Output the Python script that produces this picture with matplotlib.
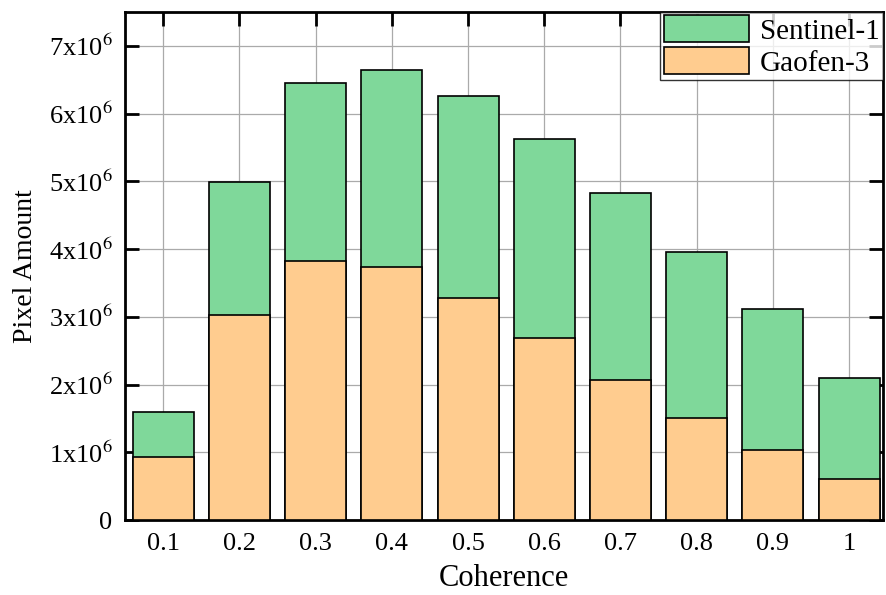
import numpy as np
import matplotlib.pyplot as plt
from matplotlib.ticker import FuncFormatter

plt.rcParams['font.family'] = ['Liberation Serif', 'DejaVu Serif']
plt.rcParams['mathtext.fontset'] = 'stix'

# Coherence bins and pixel counts (millions)
coherence = [0.1, 0.2, 0.3, 0.4, 0.5, 0.6, 0.7, 0.8, 0.9, 1.0]
tick_labels = ['0.1', '0.2', '0.3', '0.4', '0.5', '0.6', '0.7', '0.8', '0.9', '1']
sentinel1 = [1.60, 4.99, 6.45, 6.64, 6.26, 5.62, 4.82, 3.95, 3.11, 2.09]
gaofen3 = [0.93, 3.02, 3.83, 3.74, 3.27, 2.68, 2.06, 1.51, 1.04, 0.61]

fig = plt.figure(figsize=(8.87, 5.95), dpi=100)
ax = fig.add_axes([0.141, 0.126, 0.855, 0.854])

x = np.array(coherence)
s = np.array(sentinel1) * 1e6
g = np.array(gaofen3) * 1e6

ax.bar(x, s, width=0.08, color='#7fd89a', edgecolor='black', linewidth=1.2,
       label='Sentinel-1', zorder=3)
ax.bar(x, g, width=0.08, color='#ffcc8f', edgecolor='black', linewidth=1.2,
       label='Gaofen-3', zorder=4)

ax.set_xlim(0.05, 1.045)
ax.set_ylim(0, 7.5e6)
ax.set_xticks(coherence)
ax.set_xticklabels(tick_labels)
ax.set_yticks(np.arange(0, 8) * 1e6)


def fmt(v, pos):
    n = int(round(v / 1e6))
    if n == 0:
        return '0'
    return r'%dx10$^{6}$' % n


ax.yaxis.set_major_formatter(FuncFormatter(fmt))
ax.grid(True, color='#aaaaaa', linewidth=0.9, zorder=0)
ax.set_axisbelow(True)

ax.tick_params(direction='in', length=10, width=2, labelsize=19,
               top=True, right=True, pad=9)
for sp in ax.spines.values():
    sp.set_linewidth(2)

ax.set_xlabel('Coherence', fontsize=22, labelpad=7)
ax.set_ylabel('Pixel Amount', fontsize=20, labelpad=8)

leg = ax.legend(loc='upper right', fontsize=21, frameon=True, fancybox=False,
                edgecolor='black', borderaxespad=0, handlelength=2.9,
                handleheight=1.05, borderpad=0.12, labelspacing=0.08,
                handletextpad=0.4)
leg.get_frame().set_linewidth(1.0)
leg.set_zorder(10)

fig.savefig('out.png', dpi=100)
